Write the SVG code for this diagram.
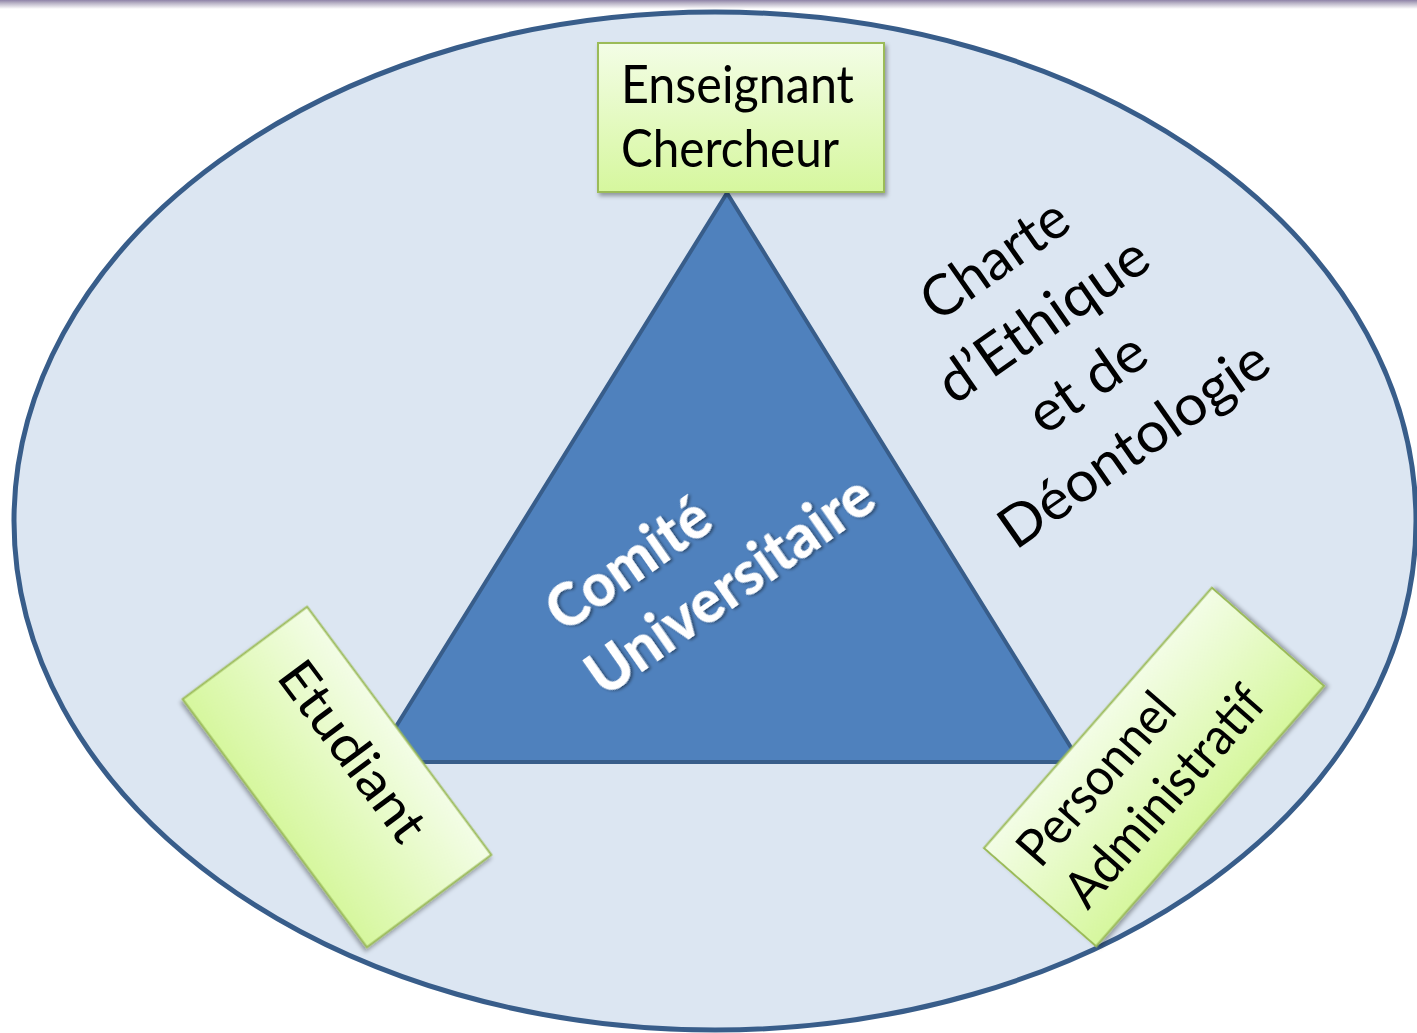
<svg xmlns="http://www.w3.org/2000/svg" width="1417" height="1033" viewBox="0 0 1417 1033">
  <defs>
    <linearGradient id="boxGrad" x1="0" y1="0" x2="0" y2="1">
      <stop offset="0" stop-color="#f3fde6"/>
      <stop offset="1" stop-color="#d6f79e"/>
    </linearGradient>
    <linearGradient id="topBand" x1="0" y1="0" x2="0" y2="1">
      <stop offset="0" stop-color="#8f83a8"/>
      <stop offset="0.35" stop-color="#b9b3c6"/>
      <stop offset="1" stop-color="#ffffff"/>
    </linearGradient>
    <filter id="boxShadow" x="-20%" y="-20%" width="140%" height="140%">
      <feDropShadow dx="2" dy="3" stdDeviation="2" flood-color="#000" flood-opacity="0.35"/>
    </filter>
    <filter id="textShadow" x="-10%" y="-20%" width="120%" height="140%">
      <feDropShadow dx="1.5" dy="2" stdDeviation="1.5" flood-color="#000" flood-opacity="0.45"/>
    </filter>
  </defs>
  <style>
    .box { fill: url(#boxGrad); stroke: #9bbb59; stroke-width: 2; filter: url(#boxShadow); }
    .lbl { font-family: Lato, "Open Sans", "Liberation Sans", sans-serif; font-size: 52px; fill: #000; }
    .charte { font-family: Lato, "Open Sans", "Liberation Sans", sans-serif; font-size: 57px; fill: #000; }
    .comite { font-family: Lato, "Open Sans", "Liberation Sans", sans-serif; font-size: 60px; font-weight: 900; fill: #fff; filter: url(#textShadow); }
  </style>

  <rect x="0" y="0" width="1417" height="1033" fill="#ffffff"/>
  <rect x="0" y="0" width="1417" height="9" fill="url(#topBand)"/>

  <g id="background-ellipse">
    <ellipse cx="715" cy="521" rx="701" ry="509" fill="#dce6f2" stroke="#385d8a" stroke-width="5"/>
  </g>

  <g id="comite-universitaire">
    <polygon points="727,193 374,762 1080,762" fill="#4f81bd" stroke="#385d8a" stroke-width="4" stroke-linejoin="miter"/>
    <g transform="translate(704,569) rotate(-35)">
      <text class="comite" x="-152" y="-27" textLength="186" lengthAdjust="spacingAndGlyphs">Comité</text>
      <text class="comite" x="-156" y="49" textLength="336" lengthAdjust="spacingAndGlyphs">Universitaire</text>
    </g>
  </g>

  <g id="charte" transform="translate(1082,393) rotate(-35)">
    <text class="charte" x="5" y="-140" text-anchor="middle" textLength="167" lengthAdjust="spacingAndGlyphs">Charte</text>
    <text class="charte" x="10" y="-63" text-anchor="middle" textLength="244" lengthAdjust="spacingAndGlyphs">d’Ethique</text>
    <text class="charte" x="10" y="14" text-anchor="middle" textLength="131" lengthAdjust="spacingAndGlyphs">et de</text>
    <text class="charte" x="13" y="91" text-anchor="middle" textLength="316" lengthAdjust="spacingAndGlyphs">Déontologie</text>
  </g>

  <g id="enseignant-chercheur">
    <rect class="box" x="598" y="43" width="286" height="149"/>
    <text class="lbl" x="621" y="103" textLength="233" lengthAdjust="spacingAndGlyphs">Enseignant</text>
    <text class="lbl" x="621" y="167" textLength="218" lengthAdjust="spacingAndGlyphs">Chercheur</text>
  </g>

  <g id="etudiant" transform="translate(337,777) rotate(53.4)">
    <rect class="box" x="-154.5" y="-77.5" width="309" height="155"/>
    <text class="lbl" x="-117" y="-10" textLength="211" lengthAdjust="spacingAndGlyphs">Etudiant</text>
  </g>

  <g id="personnel-administratif" transform="translate(1154,767) rotate(-48.8)">
    <rect class="box" x="-173" y="-74.5" width="346" height="149"/>
    <text class="lbl" x="-152" y="-18" textLength="210" lengthAdjust="spacingAndGlyphs">Personnel</text>
    <text class="lbl" x="-152" y="45" textLength="274" lengthAdjust="spacingAndGlyphs">Administratif</text>
  </g>
</svg>
